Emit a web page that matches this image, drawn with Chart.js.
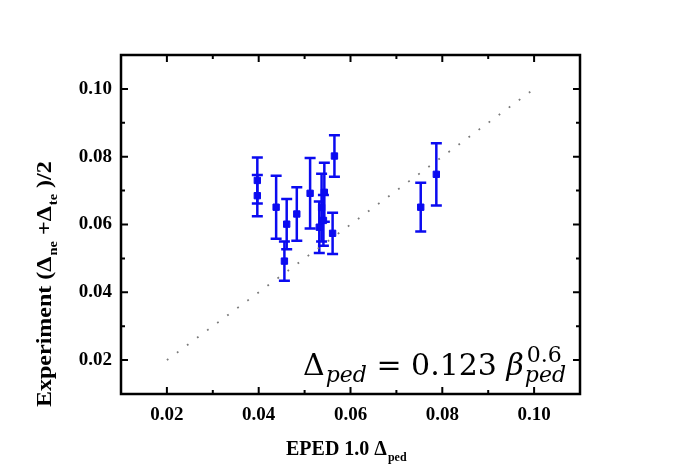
<!DOCTYPE html>
<html>
<head>
<meta charset="utf-8">
<script src="https://cdn.jsdelivr.net/npm/chart.js@4.4.1/dist/chart.umd.min.js"></script>
<style>
  html, body { margin: 0; padding: 0; background: #fff; }
  #wrap { width: 674px; height: 473px; }
</style>
</head>
<body>
<div id="wrap"><canvas id="c" width="674" height="473"></canvas></div>
<script>
// EPED 1.0 prediction vs experiment (pedestal width)
const xVals = [0.0397, 0.0397, 0.0438, 0.0461, 0.0456, 0.0483, 0.0512, 0.0543, 0.0537, 0.0541, 0.0532, 0.0561, 0.0565, 0.0753, 0.0787];
const yVals = [0.0730, 0.0685, 0.0651, 0.0601, 0.0492, 0.0631, 0.0692, 0.0695, 0.0650, 0.0612, 0.0592, 0.0574, 0.0802, 0.0651, 0.0748];
const yErr  = [0.0068, 0.0061, 0.0093, 0.0074, 0.0058, 0.0079, 0.0104, 0.0087, 0.0100, 0.0075, 0.0076, 0.0061, 0.0061, 0.0072, 0.0092];
const refLine = [0.02, 0.10];
const majorTicks = [0.02, 0.04, 0.06, 0.08, 0.10];
const minorTicks = [0.03, 0.05, 0.07, 0.09];

const BLUE = '#0b0bf0';
const SERIF = '"Liberation Serif", "Times New Roman", serif';
const MATH = '"DejaVu Serif", serif';

// error bars under the markers
const errorBars = {
  id: 'errorBars',
  beforeDatasetsDraw(chart) {
    const { ctx, scales: { x, y } } = chart;
    ctx.save();
    ctx.strokeStyle = BLUE;
    ctx.lineWidth = 2.5;
    xVals.forEach((xv, i) => {
      const px = x.getPixelForValue(xv);
      const top = y.getPixelForValue(yVals[i] + yErr[i]);
      const bot = y.getPixelForValue(yVals[i] - yErr[i]);
      ctx.beginPath();
      ctx.moveTo(px, top); ctx.lineTo(px, bot);
      ctx.moveTo(px - 5.5, top); ctx.lineTo(px + 5.5, top);
      ctx.moveTo(px - 5.5, bot); ctx.lineTo(px + 5.5, bot);
      ctx.stroke();
    });
    ctx.restore();
  }
};

// box frame with inward ticks on all four sides
const frame = {
  id: 'frame',
  afterDatasetsDraw(chart) {
    const { ctx, chartArea: a, scales: { x, y } } = chart;
    ctx.save();
    ctx.strokeStyle = '#000';
    ctx.lineWidth = 2;
    ctx.beginPath();
    const tick = (v, len) => {
      const px = x.getPixelForValue(v), py = y.getPixelForValue(v);
      ctx.moveTo(px, a.bottom); ctx.lineTo(px, a.bottom - len);
      ctx.moveTo(px, a.top); ctx.lineTo(px, a.top + len);
      ctx.moveTo(a.left, py); ctx.lineTo(a.left + len, py);
      ctx.moveTo(a.right, py); ctx.lineTo(a.right - len, py);
    };
    majorTicks.forEach(v => tick(v, 7));
    minorTicks.forEach(v => tick(v, 4));
    ctx.stroke();
    ctx.lineWidth = 2.5;
    ctx.strokeRect(a.left, a.top, a.right - a.left, a.bottom - a.top);
    ctx.restore();
  }
};

// text with subscripts: axis titles and the scaling formula
function runs(ctx, parts, x, y) {
  parts.forEach(p => {
    ctx.font = p.font;
    ctx.fillText(p.t, x + (p.dx || 0), y + (p.dy || 0));
    if (!p.stay) x += ctx.measureText(p.t).width + (p.dx || 0);
  });
  return x;
}

const labels = {
  id: 'labels',
  afterDraw(chart) {
    const { ctx } = chart;
    ctx.save();
    ctx.fillStyle = '#000';
    ctx.textBaseline = 'alphabetic';
    ctx.textAlign = 'left';
    const big = 'bold 20px ' + SERIF, sub = 'bold 12px ' + SERIF;

    // x title
    runs(ctx, [
      { t: 'EPED 1.0 \u0394', font: big },
      { t: 'ped', font: sub, dy: 6, dx: 1 }
    ], 286, 455);

    // y title (rotated, a little stretched along the text like the original)
    ctx.save();
    ctx.translate(51, 407);
    ctx.rotate(-Math.PI / 2);
    ctx.scale(1.2, 1);
    runs(ctx, [
      { t: 'Experiment (\u0394', font: big },
      { t: 'ne', font: sub, dy: 6, dx: 1 },
      { t: ' +\u0394', font: big },
      { t: 'te', font: sub, dy: 6, dx: 1 },
      { t: ' )/2', font: big }
    ], 0, 0);
    ctx.restore();

    // formula
    const n = '30px ' + MATH, it = 'italic 30px ' + MATH;
    const s = 'italic 22px ' + MATH, sn = '22px ' + MATH;
    runs(ctx, [
      { t: '\u0394', font: n },
      { t: 'ped', font: s, dy: 7, dx: 1 },
      { t: ' = 0.123 ', font: n },
      { t: '\u03b2', font: it },
      { t: '0.6', font: sn, dy: -13, dx: 3, stay: true },
      { t: 'ped', font: s, dy: 7, dx: 1 }
    ], 303, 375);
    ctx.restore();
  }
};

new Chart(document.getElementById('c'), {
  type: 'scatter',
  data: {
    datasets: [
      {
        label: 'Experiment',
        data: xVals.map((v, i) => ({ x: v, y: yVals[i] })),
        pointStyle: 'rect', pointRadius: 4.5, pointHoverRadius: 4.5,
        backgroundColor: BLUE, borderColor: BLUE, borderWidth: 1
      },
      {
        label: 'y = x',
        data: refLine.map(v => ({ x: v, y: v })),
        showLine: true, pointRadius: 0,
        borderColor: '#7a7a7a', borderWidth: 1.8, borderDash: [1.8, 10.7]
      }
    ]
  },
  options: {
    responsive: false,
    animation: false,
    layout: { padding: { top: 55, right: 94, left: 0, bottom: 0 } },
    plugins: { legend: { display: false }, tooltip: { enabled: false } },
    scales: {
      x: {
        type: 'linear', min: 0.01, max: 0.11,
        afterBuildTicks: s => { s.ticks = majorTicks.map(v => ({ value: v })); },
        afterFit: s => { s.height = 79; },
        grid: { drawOnChartArea: false, drawTicks: false },
        border: { display: false },
        ticks: { padding: 10, color: '#000', font: { family: SERIF, size: 19, weight: 'bold' }, callback: v => v.toFixed(2) }
      },
      y: {
        type: 'linear', min: 0.01, max: 0.11,
        afterBuildTicks: s => { s.ticks = majorTicks.map(v => ({ value: v })); },
        afterFit: s => { s.width = 121; },
        grid: { drawOnChartArea: false, drawTicks: false },
        border: { display: false },
        ticks: { padding: 9, color: '#000', font: { family: SERIF, size: 19, weight: 'bold' }, callback: v => v.toFixed(2) }
      }
    }
  },
  plugins: [errorBars, frame, labels]
});
</script>
</body>
</html>
